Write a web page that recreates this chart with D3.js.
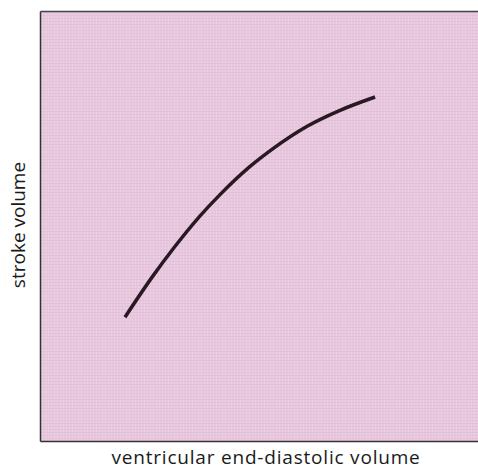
<!DOCTYPE html>
<html>
<head>
<meta charset="utf-8">
<script src="https://cdn.jsdelivr.net/npm/d3@7"></script>
<style>
  html, body { margin: 0; padding: 0; background: #ffffff; }
  svg { display: block; }
</style>
</head>
<body>
<svg id="chart" width="478" height="469"></svg>
<script>
// Data (arbitrary units, no numeric ticks shown in the original)
const curveX = [1.94, 2.58, 3.04, 3.65, 4.11, 4.79, 5.32, 6.10, 6.85, 7.65];
const curveY = [2.88, 3.84, 4.47, 5.23, 5.73, 6.38, 6.80, 7.32, 7.69, 8.00];
const xLabel = "ventricular end-diastolic volume";
const yLabel = "stroke volume";

const W = 478, H = 469;
const margin = { left: 40, top: 11, right: 0, bottom: 28 };
const svg = d3.select("#chart");

const x = d3.scaleLinear().domain([0, 10]).range([margin.left, W - margin.right]);
const y = d3.scaleLinear().domain([0, 10]).range([H - margin.bottom, margin.top]);

// Plot background with subtle texture
const defs = svg.append("defs");
const pat = defs.append("pattern").attr("id", "tex").attr("width", 3).attr("height", 3)
  .attr("patternUnits", "userSpaceOnUse");
pat.append("rect").attr("width", 3).attr("height", 3).attr("fill", "#e7c7de");
pat.append("rect").attr("width", 1).attr("height", 3).attr("fill", "#ecd1e5");
pat.append("rect").attr("width", 3).attr("height", 1).attr("fill", "#e3c1d9");
svg.append("rect")
  .attr("x", x(0)).attr("y", y(10))
  .attr("width", x(10) - x(0)).attr("height", y(0) - y(10))
  .attr("fill", "url(#tex)");

// Frame lines (no ticks)
svg.append("g")
  .attr("transform", `translate(0,${y(0)})`)
  .call(d3.axisBottom(x).tickValues([]).tickSizeOuter(0))
  .select(".domain").attr("stroke", "#333").attr("stroke-width", 1.5);
svg.append("g")
  .attr("transform", `translate(${x(0)},0)`)
  .call(d3.axisLeft(y).tickValues([]).tickSizeOuter(0))
  .select(".domain").attr("stroke", "#333").attr("stroke-width", 1.5);
svg.append("g")
  .attr("transform", `translate(0,${y(10)})`)
  .call(d3.axisTop(x).tickValues([]).tickSizeOuter(0))
  .select(".domain").attr("stroke", "#444").attr("stroke-width", 1.5);

// Curve
const pts = curveX.map((v, i) => [v, curveY[i]]);
const line = d3.line().x(d => x(d[0])).y(d => y(d[1])).curve(d3.curveMonotoneX);
svg.append("path")
  .datum(pts)
  .attr("d", line)
  .attr("fill", "none")
  .attr("stroke", "#2a1822")
  .attr("stroke-width", 3.5)
  .attr("stroke-linecap", "butt");

// Labels
svg.append("text")
  .attr("x", 266).attr("y", 464)
  .attr("text-anchor", "middle")
  .attr("font-family", "'Open Sans', sans-serif")
  .attr("font-size", 19)
  .attr("letter-spacing", 0.8)
  .attr("fill", "#1a1a1a")
  .text(xLabel);

svg.append("text")
  .attr("transform", `translate(25,225) rotate(-90)`)
  .attr("text-anchor", "middle")
  .attr("font-family", "'Open Sans', sans-serif")
  .attr("font-size", 19)
  .attr("fill", "#1a1a1a")
  .text(yLabel);
</script>
</body>
</html>
